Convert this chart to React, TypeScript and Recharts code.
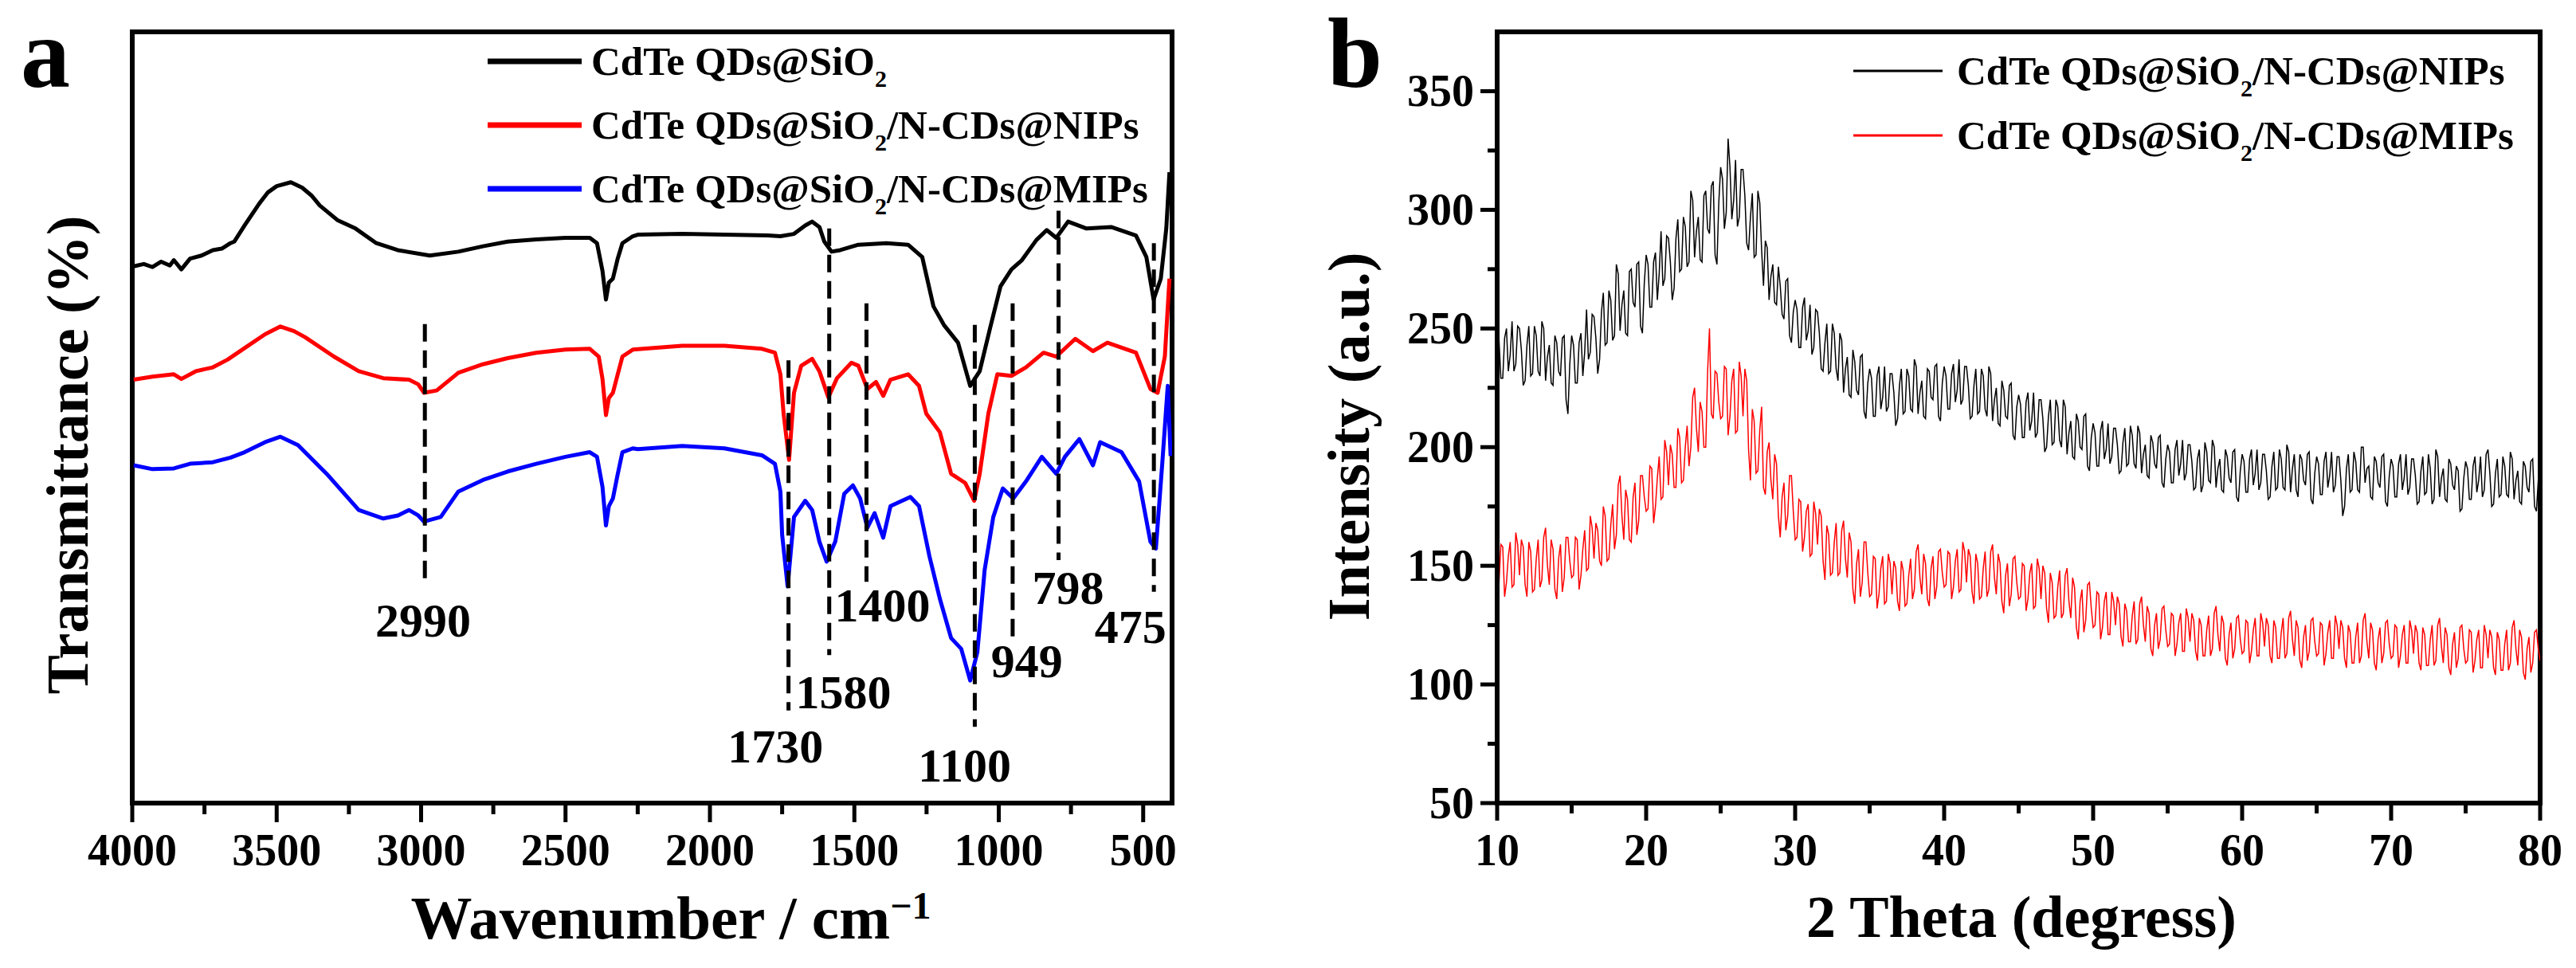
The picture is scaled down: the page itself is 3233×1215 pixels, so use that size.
import React from 'react';
import { LineChart, Line, XAxis, YAxis, ReferenceLine, ReferenceDot, ReferenceArea, Legend } from 'recharts';

const SERIF = "'Liberation Serif', 'Times New Roman', Times, serif";

// ---------- Panel a : FTIR (wavenumber, transmittance in arbitrary units) ----------
const ftirSiO2: [number, number][] = [
  [3995, 69.6], [3960, 69.9], [3930, 69.5], [3900, 70.2], [3870, 69.7], [3856, 70.4], [3830, 69.2], [3800, 70.6],
  [3760, 71.0], [3721, 71.7], [3690, 71.9], [3660, 72.6], [3647, 72.8], [3611, 74.9], [3561, 77.7], [3530, 79.2],
  [3500, 80.0], [3451, 80.5], [3412, 79.8], [3380, 78.8], [3351, 77.5], [3290, 75.6], [3227, 74.5], [3155, 72.6],
  [3081, 71.7], [2970, 71.0], [2871, 71.5], [2786, 72.2], [2700, 72.8], [2601, 73.1], [2500, 73.3], [2416, 73.3],
  [2391, 72.6], [2372, 69.0], [2360, 65.3], [2350, 67.5], [2336, 68.0], [2320, 70.5], [2303, 72.6], [2267, 73.5],
  [2250, 73.7], [2096, 73.8], [1950, 73.7], [1800, 73.6], [1756, 73.5], [1709, 73.8], [1670, 74.9], [1646, 75.4],
  [1621, 74.7], [1604, 72.8], [1579, 71.5], [1549, 71.7], [1486, 72.4], [1389, 72.6], [1314, 72.4], [1265, 70.8],
  [1226, 64.4], [1190, 62.0], [1141, 59.7], [1099, 54.1], [1066, 56.0], [1030, 61.6], [994, 67.0], [956, 69.2],
  [920, 70.4], [870, 73.0], [834, 74.3], [801, 73.3], [760, 75.4], [696, 74.5], [611, 74.7], [525, 73.6],
  [489, 70.8], [464, 65.3], [439, 68.0], [420, 74.5], [409, 81.8],
];

const ftirNIPs: [number, number][] = [
  [3995, 54.9], [3930, 55.3], [3856, 55.6], [3830, 55.0], [3780, 56.0], [3721, 56.5], [3670, 57.5], [3611, 59.0],
  [3540, 60.8], [3487, 61.8], [3440, 61.2], [3401, 60.4], [3302, 57.9], [3216, 56.0], [3131, 55.1], [3042, 54.9],
  [3010, 54.3], [2990, 53.2], [2946, 53.5], [2871, 55.8], [2786, 56.9], [2700, 57.7], [2601, 58.4], [2500, 58.8],
  [2416, 58.9], [2385, 57.9], [2372, 55.0], [2360, 50.3], [2350, 52.5], [2336, 53.2], [2320, 55.5], [2303, 57.9],
  [2267, 58.8], [2096, 59.3], [1950, 59.3], [1820, 58.9], [1775, 58.4], [1756, 55.6], [1745, 50.5], [1726, 44.5],
  [1709, 53.2], [1684, 56.7], [1646, 57.6], [1621, 56.0], [1590, 52.6], [1560, 55.1], [1510, 57.1], [1486, 56.7],
  [1455, 53.7], [1425, 54.6], [1400, 52.8], [1375, 54.9], [1314, 55.6], [1276, 54.1], [1251, 50.5], [1204, 48.1],
  [1165, 42.7], [1116, 41.5], [1085, 39.2], [1066, 42.7], [1036, 50.5], [1005, 55.6], [956, 55.4], [906, 56.5],
  [845, 58.4], [801, 57.9], [735, 60.2], [674, 58.6], [624, 59.7], [525, 58.4], [475, 53.7], [450, 53.2],
  [425, 57.9], [409, 68.0],
];

const ftirMIPs: [number, number][] = [
  [3995, 43.8], [3930, 43.3], [3856, 43.4], [3800, 44.0], [3721, 44.2], [3660, 44.8], [3611, 45.5], [3540, 46.8],
  [3487, 47.5], [3426, 46.4], [3327, 42.7], [3216, 38.0], [3131, 36.9], [3080, 37.3], [3042, 38.0], [3010, 37.3],
  [2990, 36.5], [2932, 37.1], [2871, 40.4], [2786, 41.9], [2700, 43.0], [2601, 44.0], [2500, 44.9], [2416, 45.5],
  [2391, 44.9], [2372, 41.0], [2360, 36.0], [2350, 38.5], [2336, 39.5], [2320, 42.5], [2303, 45.5], [2267, 46.0],
  [2250, 45.9], [2096, 46.3], [1950, 46.0], [1820, 45.1], [1775, 44.0], [1756, 40.4], [1750, 34.8], [1731, 28.1],
  [1709, 37.1], [1670, 39.2], [1646, 38.0], [1621, 33.9], [1596, 31.3], [1566, 33.9], [1535, 40.1], [1505, 41.2],
  [1480, 39.5], [1455, 35.7], [1430, 37.6], [1400, 34.4], [1375, 38.5], [1306, 39.7], [1276, 38.5], [1240, 32.0],
  [1204, 26.5], [1165, 21.4], [1130, 20.0], [1099, 15.9], [1074, 19.6], [1049, 30.2], [1019, 37.1], [986, 40.8],
  [950, 39.5], [906, 41.7], [851, 44.9], [801, 42.7], [771, 44.9], [721, 47.2], [674, 43.8], [649, 46.8],
  [575, 45.5], [514, 41.7], [475, 33.9], [456, 33.0], [434, 44.0], [415, 54.1], [405, 45.0],
];

const ftirTicks = [4000, 3750, 3500, 3250, 3000, 2750, 2500, 2250, 2000, 1750, 1500, 1250, 1000, 750, 500];

// dashed marker lines: wavenumber, top and bottom (transmittance units)
const peakLines = [
  { wn: 2987, top: 62.1, bottom: 28.6 },
  { wn: 1728, top: 57.4, bottom: 12.0 },
  { wn: 1587, top: 74.5, bottom: 19.2 },
  { wn: 1458, top: 64.8, bottom: 28.7 },
  { wn: 1083, top: 62.0, bottom: 9.9 },
  { wn: 952, top: 64.8, bottom: 21.0 },
  { wn: 793, top: 76.8, bottom: 31.5 },
  { wn: 463, top: 72.6, bottom: 27.4 },
];

const peakLabels = [
  { text: '2990', wn: 2993, t: 23.8 },
  { text: '1730', wn: 1773, t: 7.5 },
  { text: '1580', wn: 1538, t: 14.5 },
  { text: '1400', wn: 1403, t: 25.8 },
  { text: '1100', wn: 1118, t: 5.0 },
  { text: '949', wn: 903, t: 18.5 },
  { text: '798', wn: 760, t: 28.0 },
  { text: '475', wn: 544, t: 23.0 },
];

// ---------- Panel b : XRD (2θ every 0.125°) ----------
const xrdTheta = [
  10, 10.125, 10.25, 10.375, 10.5, 10.625, 10.75, 10.875, 11, 11.125, 11.25, 11.375, 11.5, 11.625, 11.75, 11.875,
  12, 12.125, 12.25, 12.375, 12.5, 12.625, 12.75, 12.875, 13, 13.125, 13.25, 13.375, 13.5, 13.625, 13.75, 13.875,
  14, 14.125, 14.25, 14.375, 14.5, 14.625, 14.75, 14.875, 15, 15.125, 15.25, 15.375, 15.5, 15.625, 15.75, 15.875,
  16, 16.125, 16.25, 16.375, 16.5, 16.625, 16.75, 16.875, 17, 17.125, 17.25, 17.375, 17.5, 17.625, 17.75, 17.875,
  18, 18.125, 18.25, 18.375, 18.5, 18.625, 18.75, 18.875, 19, 19.125, 19.25, 19.375, 19.5, 19.625, 19.75, 19.875,
  20, 20.125, 20.25, 20.375, 20.5, 20.625, 20.75, 20.875, 21, 21.125, 21.25, 21.375, 21.5, 21.625, 21.75, 21.875,
  22, 22.125, 22.25, 22.375, 22.5, 22.625, 22.75, 22.875, 23, 23.125, 23.25, 23.375, 23.5, 23.625, 23.75, 23.875,
  24, 24.125, 24.25, 24.375, 24.5, 24.625, 24.75, 24.875, 25, 25.125, 25.25, 25.375, 25.5, 25.625, 25.75, 25.875,
  26, 26.125, 26.25, 26.375, 26.5, 26.625, 26.75, 26.875, 27, 27.125, 27.25, 27.375, 27.5, 27.625, 27.75, 27.875,
  28, 28.125, 28.25, 28.375, 28.5, 28.625, 28.75, 28.875, 29, 29.125, 29.25, 29.375, 29.5, 29.625, 29.75, 29.875,
  30, 30.125, 30.25, 30.375, 30.5, 30.625, 30.75, 30.875, 31, 31.125, 31.25, 31.375, 31.5, 31.625, 31.75, 31.875,
  32, 32.125, 32.25, 32.375, 32.5, 32.625, 32.75, 32.875, 33, 33.125, 33.25, 33.375, 33.5, 33.625, 33.75, 33.875,
  34, 34.125, 34.25, 34.375, 34.5, 34.625, 34.75, 34.875, 35, 35.125, 35.25, 35.375, 35.5, 35.625, 35.75, 35.875,
  36, 36.125, 36.25, 36.375, 36.5, 36.625, 36.75, 36.875, 37, 37.125, 37.25, 37.375, 37.5, 37.625, 37.75, 37.875,
  38, 38.125, 38.25, 38.375, 38.5, 38.625, 38.75, 38.875, 39, 39.125, 39.25, 39.375, 39.5, 39.625, 39.75, 39.875,
  40, 40.125, 40.25, 40.375, 40.5, 40.625, 40.75, 40.875, 41, 41.125, 41.25, 41.375, 41.5, 41.625, 41.75, 41.875,
  42, 42.125, 42.25, 42.375, 42.5, 42.625, 42.75, 42.875, 43, 43.125, 43.25, 43.375, 43.5, 43.625, 43.75, 43.875,
  44, 44.125, 44.25, 44.375, 44.5, 44.625, 44.75, 44.875, 45, 45.125, 45.25, 45.375, 45.5, 45.625, 45.75, 45.875,
  46, 46.125, 46.25, 46.375, 46.5, 46.625, 46.75, 46.875, 47, 47.125, 47.25, 47.375, 47.5, 47.625, 47.75, 47.875,
  48, 48.125, 48.25, 48.375, 48.5, 48.625, 48.75, 48.875, 49, 49.125, 49.25, 49.375, 49.5, 49.625, 49.75, 49.875,
  50, 50.125, 50.25, 50.375, 50.5, 50.625, 50.75, 50.875, 51, 51.125, 51.25, 51.375, 51.5, 51.625, 51.75, 51.875,
  52, 52.125, 52.25, 52.375, 52.5, 52.625, 52.75, 52.875, 53, 53.125, 53.25, 53.375, 53.5, 53.625, 53.75, 53.875,
  54, 54.125, 54.25, 54.375, 54.5, 54.625, 54.75, 54.875, 55, 55.125, 55.25, 55.375, 55.5, 55.625, 55.75, 55.875,
  56, 56.125, 56.25, 56.375, 56.5, 56.625, 56.75, 56.875, 57, 57.125, 57.25, 57.375, 57.5, 57.625, 57.75, 57.875,
  58, 58.125, 58.25, 58.375, 58.5, 58.625, 58.75, 58.875, 59, 59.125, 59.25, 59.375, 59.5, 59.625, 59.75, 59.875,
  60, 60.125, 60.25, 60.375, 60.5, 60.625, 60.75, 60.875, 61, 61.125, 61.25, 61.375, 61.5, 61.625, 61.75, 61.875,
  62, 62.125, 62.25, 62.375, 62.5, 62.625, 62.75, 62.875, 63, 63.125, 63.25, 63.375, 63.5, 63.625, 63.75, 63.875,
  64, 64.125, 64.25, 64.375, 64.5, 64.625, 64.75, 64.875, 65, 65.125, 65.25, 65.375, 65.5, 65.625, 65.75, 65.875,
  66, 66.125, 66.25, 66.375, 66.5, 66.625, 66.75, 66.875, 67, 67.125, 67.25, 67.375, 67.5, 67.625, 67.75, 67.875,
  68, 68.125, 68.25, 68.375, 68.5, 68.625, 68.75, 68.875, 69, 69.125, 69.25, 69.375, 69.5, 69.625, 69.75, 69.875,
  70, 70.125, 70.25, 70.375, 70.5, 70.625, 70.75, 70.875, 71, 71.125, 71.25, 71.375, 71.5, 71.625, 71.75, 71.875,
  72, 72.125, 72.25, 72.375, 72.5, 72.625, 72.75, 72.875, 73, 73.125, 73.25, 73.375, 73.5, 73.625, 73.75, 73.875,
  74, 74.125, 74.25, 74.375, 74.5, 74.625, 74.75, 74.875, 75, 75.125, 75.25, 75.375, 75.5, 75.625, 75.75, 75.875,
  76, 76.125, 76.25, 76.375, 76.5, 76.625, 76.75, 76.875, 77, 77.125, 77.25, 77.375, 77.5, 77.625, 77.75, 77.875,
  78, 78.125, 78.25, 78.375, 78.5, 78.625, 78.75, 78.875, 79, 79.125, 79.25, 79.375, 79.5, 79.625, 79.75, 79.875,
  80,
];

const xrdNIPs = [
  249, 245, 229, 229, 246, 250, 232, 239, 253, 232, 235, 251, 250, 241, 226, 228,
  243, 251, 230, 231, 251, 247, 232, 230, 253, 250, 228, 238, 243, 227, 226, 247,
  244, 232, 230, 246, 247, 220, 214, 235, 247, 243, 227, 227, 244, 248, 230, 240,
  258, 237, 240, 256, 255, 246, 231, 237, 257, 265, 243, 244, 266, 262, 245, 247,
  277, 273, 249, 260, 266, 248, 247, 274, 275, 261, 259, 277, 278, 251, 248, 269,
  281, 277, 259, 259, 278, 282, 262, 273, 291, 268, 271, 289, 288, 278, 262, 267,
  288, 296, 274, 275, 297, 293, 276, 278, 308, 304, 280, 291, 297, 279, 278, 306,
  308, 292, 290, 310, 312, 281, 277, 303, 318, 313, 292, 299, 330, 318, 296, 304,
  321, 293, 297, 317, 317, 306, 286, 283, 297, 307, 280, 281, 308, 303, 283, 268,
  287, 284, 262, 272, 277, 261, 260, 276, 268, 256, 254, 270, 271, 247, 244, 257,
  262, 258, 242, 242, 259, 263, 245, 249, 260, 239, 242, 258, 257, 248, 233, 232,
  244, 252, 231, 232, 252, 248, 233, 228, 248, 245, 223, 233, 238, 222, 221, 241,
  236, 224, 222, 238, 239, 215, 212, 227, 233, 229, 213, 213, 230, 234, 216, 221,
  234, 215, 217, 231, 231, 223, 209, 212, 226, 233, 214, 215, 233, 230, 216, 215,
  237, 234, 214, 223, 228, 213, 212, 233, 232, 221, 220, 234, 235, 213, 211, 227,
  234, 230, 216, 216, 231, 235, 219, 224, 237, 218, 220, 234, 234, 226, 212, 213,
  226, 233, 214, 215, 233, 230, 216, 213, 234, 231, 211, 220, 225, 210, 209, 228,
  224, 213, 212, 226, 227, 205, 203, 217, 222, 218, 204, 204, 219, 223, 207, 211,
  223, 204, 206, 220, 220, 212, 198, 200, 213, 220, 201, 202, 220, 217, 203, 200,
  220, 217, 197, 206, 211, 196, 195, 214, 211, 200, 199, 213, 214, 192, 190, 204,
  210, 206, 192, 192, 207, 211, 195, 199, 210, 193, 196, 208, 208, 201, 189, 190,
  202, 208, 192, 193, 209, 205, 193, 191, 209, 206, 189, 197, 201, 188, 187, 205,
  202, 193, 191, 204, 205, 185, 183, 195, 201, 198, 185, 185, 199, 203, 188, 193,
  203, 186, 189, 201, 201, 194, 182, 183, 195, 199, 181, 184, 202, 198, 186, 185,
  203, 200, 183, 191, 195, 182, 181, 199, 196, 187, 185, 198, 199, 179, 177, 190,
  197, 194, 181, 181, 195, 199, 184, 189, 199, 182, 185, 197, 197, 190, 178, 179,
  192, 198, 182, 183, 199, 195, 183, 182, 201, 198, 181, 191, 197, 182, 179, 197,
  195, 186, 184, 197, 198, 178, 176, 189, 196, 193, 180, 180, 194, 198, 183, 188,
  198, 181, 184, 196, 196, 186, 171, 175, 191, 197, 181, 182, 198, 194, 182, 181,
  200, 200, 185, 191, 192, 179, 178, 196, 194, 185, 183, 196, 197, 177, 175, 188,
  195, 192, 179, 179, 193, 197, 182, 187, 197, 180, 183, 195, 195, 188, 176, 177,
  190, 196, 180, 181, 197, 191, 176, 178, 199, 196, 179, 187, 191, 178, 177, 195,
  193, 184, 182, 192, 190, 173, 174, 187, 194, 191, 178, 178, 192, 196, 181, 186,
  196, 179, 182, 197, 199, 189, 175, 176, 189, 195, 179, 180, 196, 192, 180, 179,
  198, 195, 178, 186, 190, 177, 176, 194, 192, 183, 181, 194, 195, 175, 173, 186,
  192,
];

const xrdMIPs = [
  142, 143, 159, 158, 137, 143, 154, 160, 141, 142, 164, 159, 146, 161, 158, 142,
  137, 160, 156, 139, 140, 153, 161, 141, 144, 162, 166, 150, 142, 161, 157, 140,
  136, 153, 159, 139, 145, 162, 162, 152, 145, 146, 162, 161, 140, 146, 157, 165,
  148, 149, 171, 166, 153, 168, 165, 152, 150, 175, 171, 152, 153, 167, 176, 157,
  163, 184, 188, 171, 161, 182, 178, 161, 160, 179, 185, 163, 169, 188, 188, 179,
  173, 174, 192, 191, 168, 175, 187, 196, 178, 179, 203, 198, 184, 201, 197, 183,
  183, 208, 204, 185, 186, 200, 209, 192, 200, 221, 225, 208, 198, 219, 215, 200,
  200, 232, 250, 214, 212, 232, 231, 219, 212, 213, 234, 233, 205, 213, 228, 233,
  206, 207, 236, 230, 213, 233, 228, 199, 186, 216, 211, 189, 190, 207, 217, 183,
  180, 198, 202, 186, 178, 197, 193, 171, 162, 179, 185, 165, 171, 188, 188, 173,
  161, 162, 178, 177, 156, 162, 173, 176, 154, 155, 177, 172, 159, 174, 171, 152,
  144, 167, 163, 146, 147, 160, 168, 146, 147, 165, 169, 153, 145, 164, 160, 140,
  134, 151, 157, 137, 143, 160, 160, 147, 137, 138, 154, 153, 132, 138, 149, 154,
  134, 135, 155, 151, 138, 152, 149, 135, 131, 152, 148, 133, 134, 146, 153, 136,
  140, 156, 159, 145, 138, 155, 151, 136, 133, 149, 154, 136, 141, 156, 157, 147,
  141, 142, 156, 155, 136, 141, 152, 157, 139, 140, 160, 156, 143, 157, 154, 139,
  134, 155, 151, 136, 137, 149, 156, 137, 140, 156, 159, 145, 138, 155, 151, 135,
  130, 146, 151, 133, 138, 153, 154, 143, 136, 137, 151, 150, 131, 136, 147, 151,
  132, 133, 153, 149, 136, 150, 147, 132, 126, 147, 143, 128, 129, 141, 148, 128,
  130, 146, 149, 135, 128, 145, 141, 124, 119, 135, 140, 122, 127, 142, 143, 132,
  124, 125, 139, 138, 119, 124, 135, 139, 121, 121, 139, 135, 125, 137, 134, 120,
  116, 134, 131, 118, 118, 129, 135, 117, 119, 134, 137, 125, 118, 133, 130, 115,
  112, 125, 130, 115, 119, 132, 133, 123, 116, 117, 130, 129, 112, 117, 126, 130,
  114, 114, 132, 128, 118, 130, 127, 114, 110, 128, 125, 112, 112, 123, 129, 112,
  115, 130, 133, 121, 114, 129, 126, 111, 108, 121, 126, 111, 115, 128, 129, 119,
  113, 114, 127, 126, 109, 114, 123, 128, 112, 112, 130, 126, 116, 128, 125, 112,
  109, 127, 124, 111, 111, 122, 128, 111, 113, 128, 131, 119, 112, 127, 124, 110,
  107, 120, 125, 110, 114, 127, 128, 118, 112, 113, 126, 125, 108, 113, 122, 127,
  111, 111, 129, 125, 115, 127, 124, 111, 107, 125, 122, 109, 109, 120, 126, 109,
  112, 127, 130, 118, 111, 126, 123, 109, 106, 119, 124, 109, 113, 126, 127, 117,
  111, 112, 125, 124, 107, 112, 121, 125, 109, 109, 127, 123, 113, 125, 122, 109,
  106, 124, 121, 108, 108, 119, 125, 108, 110, 125, 128, 116, 109, 124, 121, 107,
  104, 117, 122, 107, 111, 124, 125, 115, 109, 110, 123, 122, 105, 110, 119, 123,
  107, 107, 125, 121, 111, 123, 120, 107, 104, 122, 119, 106, 106, 117, 123, 106,
  109, 124, 127, 115, 108, 123, 120, 105, 102, 115, 120, 105, 109, 122, 123, 115,
  110,
];

const xrdXTicks = [10, 15, 20, 25, 30, 35, 40, 45, 50, 55, 60, 65, 70, 75, 80];
const xrdYTicks = [50, 75, 100, 125, 150, 175, 200, 225, 250, 275, 300, 325, 350];

const NAME_SIO2 = 'CdTe QDs@SiO2';
const NAME_NIPS = 'CdTe QDs@SiO2/N-CDs@NIPs';
const NAME_MIPS = 'CdTe QDs@SiO2/N-CDs@MIPs';

const toXY = (pairs: [number, number][]) => pairs.map(([x, y]) => ({ x, y }));
const sio2Data = toXY(ftirSiO2);
const nipsData = toXY(ftirNIPs);
const mipsData = toXY(ftirMIPs);
const xrdNipsData = xrdTheta.map((x, i) => ({ x, y: xrdNIPs[i] })).filter((d) => d.y !== undefined);
const xrdMipsData = xrdTheta.map((x, i) => ({ x, y: xrdMIPs[i] })).filter((d) => d.y !== undefined);

// ---------- helpers ----------
function SubName({ name, x, y, size }: { name: string; x: number; y: number; size: number }) {
  const idx = name.indexOf('SiO2');
  const before = name.slice(0, idx + 3);
  const after = name.slice(idx + 4);
  return (
    <text x={x} y={y} fontFamily={SERIF} fontWeight="bold" fontSize={size} fill="#000">
      {before}
      <tspan dy={15} fontSize={30}>2</tspan>
      <tspan dy={-15}>{after}</tspan>
    </text>
  );
}

function makeLegend(order: string[], rows: number[], lineX1: number, lineX2: number, textX: number, lineW: number, w: number) {
  return (props: any) => {
    const payload = props.payload || [];
    const items = order
      .map((name) => payload.find((p: any) => String(p.value) === name))
      .filter(Boolean);
    return (
      <svg width={w} height={300} style={{ overflow: 'visible', display: 'block' }}>
        {items.map((p: any, i: number) => (
          <g key={i}>
            <line x1={lineX1} x2={lineX2} y1={rows[i]} y2={rows[i]} stroke={p.color} strokeWidth={lineW} />
            <SubName name={String(p.value)} x={textX} y={rows[i] + 17} size={51} />
          </g>
        ))}
      </svg>
    );
  };
}

function FtirTick(props: any) {
  const { x, y, payload } = props;
  const v = payload.value;
  const major = v % 500 === 0;
  return (
    <g>
      <line x1={x} x2={x} y1={y} y2={y + (major ? 24 : 14)} stroke="#000" strokeWidth={5} />
      {major && (
        <text x={x} y={y + 78} textAnchor="middle" fontFamily={SERIF} fontWeight="bold" fontSize={56} fill="#000">
          {v}
        </text>
      )}
    </g>
  );
}

function XrdXTick(props: any) {
  const { x, y, payload } = props;
  const v = payload.value;
  const major = v % 10 === 0;
  return (
    <g>
      <line x1={x} x2={x} y1={y} y2={y + (major ? 22 : 13)} stroke="#000" strokeWidth={5} />
      {major && (
        <text x={x} y={y + 78} textAnchor="middle" fontFamily={SERIF} fontWeight="bold" fontSize={56} fill="#000">
          {v}
        </text>
      )}
    </g>
  );
}

function XrdYTick(props: any) {
  const { x, y, payload } = props;
  const v = payload.value;
  const major = v % 50 === 0;
  return (
    <g>
      <line x1={x} x2={x - (major ? 21 : 12)} y1={y} y2={y} stroke="#000" strokeWidth={5} />
      {major && (
        <text x={x - 29} y={y + 19} textAnchor="end" fontFamily={SERIF} fontWeight="bold" fontSize={56} fill="#000">
          {v}
        </text>
      )}
    </g>
  );
}

function XTitleA() {
  return (
    <text x={842} y={1178} textAnchor="middle" fontFamily={SERIF} fontWeight="bold" fontSize={77} fill="#000">
      Wavenumber / cm
      <tspan dy={-25} fontSize={48}>−1</tspan>
    </text>
  );
}

function XTitleB() {
  return (
    <text x={937} y={1176} textAnchor="middle" fontFamily={SERIF} fontWeight="bold" fontSize={74} fill="#000">
      2 Theta (degress)
    </text>
  );
}

export default function App() {
  return (
    <div style={{ position: 'absolute', left: 0, top: 0, width: 3233, height: 1215, background: '#fff', overflow: 'hidden' }}>
      {/* Panel a */}
      <div style={{ position: 'absolute', left: 0, top: 0 }}>
        <LineChart width={1600} height={1215} margin={{ top: 40, right: 129, bottom: 107, left: 166 }}>
          <XAxis
            type="number"
            dataKey="x"
            domain={[400, 4000]}
            reversed
            allowDataOverflow
            ticks={ftirTicks}
            interval={0}
            tickSize={0}
            tickMargin={0}
            tickLine={false}
            axisLine={{ stroke: '#000', strokeWidth: 6 }}
            tick={(p: any) => <FtirTick {...p} />}
            height={100}
            label={<XTitleA />}
          />
          <YAxis type="number" domain={[0, 100]} allowDataOverflow hide />
          <ReferenceArea x1={4000} x2={400} y1={0} y2={100} fill="none" stroke="#000" strokeWidth={6} ifOverflow="visible" />
          <Line data={sio2Data} dataKey="y" name={NAME_SIO2} type="linear" stroke="#000000" strokeWidth={5} dot={false} isAnimationActive={false} strokeLinejoin="round" />
          <Line data={nipsData} dataKey="y" name={NAME_NIPS} type="linear" stroke="#ff0000" strokeWidth={5} dot={false} isAnimationActive={false} strokeLinejoin="round" />
          <Line data={mipsData} dataKey="y" name={NAME_MIPS} type="linear" stroke="#0000ff" strokeWidth={5} dot={false} isAnimationActive={false} strokeLinejoin="round" />
          {peakLines.map((p, i) => (
            <ReferenceLine
              key={'pl' + i}
              segment={[{ x: p.wn, y: p.top }, { x: p.wn, y: p.bottom }]}
              stroke="#000"
              strokeWidth={5}
              strokeDasharray="22 11"
              ifOverflow="visible"
            />
          ))}
          {peakLabels.map((p, i) => (
            <ReferenceDot
              key={'lb' + i}
              x={p.wn}
              y={p.t}
              r={0}
              fill="none"
              stroke="none"
              ifOverflow="visible"
              label={{ value: p.text, position: 'center', fontSize: 60, fontWeight: 'bold', fontFamily: SERIF, fill: '#000' }}
            />
          ))}
          <Legend
            layout="horizontal"
            verticalAlign="middle"
            align="center"
            wrapperStyle={{ left: 0, top: 0, width: 1600, height: 300 }}
            content={makeLegend([NAME_SIO2, NAME_NIPS, NAME_MIPS], [77, 157, 237], 612, 730, 742, 7, 1600)}
          />
        </LineChart>
      </div>

      {/* Panel b */}
      <div style={{ position: 'absolute', left: 1600, top: 0 }}>
        <LineChart width={1633} height={1215} margin={{ top: 40, right: 45, bottom: 107, left: 179 }}>
          <XAxis
            type="number"
            dataKey="x"
            domain={[10, 80]}
            allowDataOverflow
            ticks={xrdXTicks}
            interval={0}
            tickSize={0}
            tickMargin={0}
            tickLine={false}
            axisLine={{ stroke: '#000', strokeWidth: 6 }}
            tick={(p: any) => <XrdXTick {...p} />}
            height={100}
            label={<XTitleB />}
          />
          <YAxis
            type="number"
            domain={[50, 375]}
            allowDataOverflow
            ticks={xrdYTicks}
            interval={0}
            width={100}
            tickSize={0}
            tickMargin={0}
            tickLine={false}
            axisLine={{ stroke: '#000', strokeWidth: 6 }}
            tick={(p: any) => <XrdYTick {...p} />}
          />
          <ReferenceArea x1={10} x2={80} y1={50} y2={375} fill="none" stroke="#000" strokeWidth={6} ifOverflow="visible" />
          <Line data={xrdNipsData} dataKey="y" name={NAME_NIPS} type="linear" stroke="#000000" strokeWidth={1.5} dot={false} isAnimationActive={false} />
          <Line data={xrdMipsData} dataKey="y" name={NAME_MIPS} type="linear" stroke="#ff0000" strokeWidth={1.5} dot={false} isAnimationActive={false} />
          <Legend
            layout="horizontal"
            verticalAlign="middle"
            align="center"
            wrapperStyle={{ left: 0, top: 0, width: 1633, height: 300 }}
            content={makeLegend([NAME_NIPS, NAME_MIPS], [89, 170], 726, 838, 856, 3, 1633)}
          />
        </LineChart>
      </div>

      {/* panel letters and y-axis titles */}
      <svg width={3233} height={1215} style={{ position: 'absolute', left: 0, top: 0, pointerEvents: 'none' }}>
        <text x={26} y={109} fontFamily={SERIF} fontWeight="bold" fontSize={124} fill="#000">a</text>
        <text x={1666} y={109} fontFamily={SERIF} fontWeight="bold" fontSize={124} fill="#000">b</text>
        <text transform="translate(110, 571) rotate(-90)" x={0} y={0} textAnchor="middle" fontFamily={SERIF} fontWeight="bold" fontSize={74} fill="#000">
          Transmittance (%)
        </text>
        <text transform="translate(1718, 548) rotate(-90)" x={0} y={0} textAnchor="middle" fontFamily={SERIF} fontWeight="bold" fontSize={74} fill="#000">
          Intensity (a.u.)
        </text>
      </svg>
    </div>
  );
}
